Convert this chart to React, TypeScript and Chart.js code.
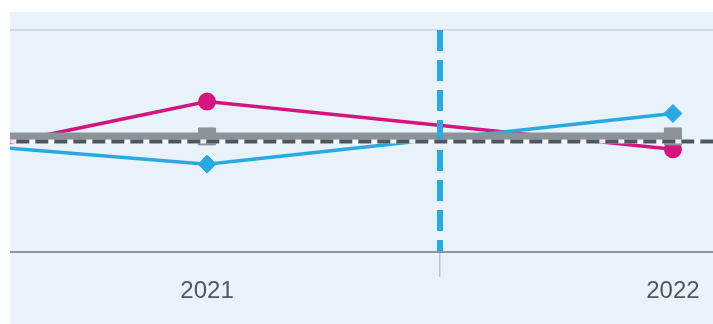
import React, { useEffect, useRef } from "react";
import { Chart, registerables } from "chart.js";

Chart.register(...registerables);

// ---- data ----
const years = [2020, 2021, 2022];
const pinkSeries = [-5.15, 3.54, -0.76];
const blueSeries = [1.28, -2.1, 2.47];
const graySeries = [0.4, 0.4, 0.4];
const referenceValue = -0.05;
const markerYear = 2021.5;
const xTickValues = [2021, 2021.5, 2022];
const xTickLabels: Record<string, string> = { "2021": "2021", "2022": "2022" };
const xRange = [2020.577, 2022.086];
const yRange = [-10, 10];

const PINK = "#d4157f";
const BLUE = "#29a9e1";
const GRAY = "#8b9399";
const DARK = "#4e5660";
const BG = "#e8f2fb";

function pts(vals: number[]) {
  return years.map((x, i) => ({ x, y: vals[i] }));
}

export default function App() {
  const ref = useRef<HTMLCanvasElement | null>(null);
  useEffect(() => {
    if (!ref.current) return;
    const chart = new Chart(ref.current, {
      type: "line",
      data: {
        datasets: [
          {
            label: "reference",
            data: [
              { x: years[0] - 1, y: referenceValue },
              { x: years[years.length - 1] + 1, y: referenceValue },
            ],
            borderColor: DARK,
            borderWidth: 4,
            borderDash: [13, 6],
            pointRadius: 0,
            order: 0,
          },
          {
            label: "reference-under",
            data: [
              { x: years[0] - 1, y: referenceValue },
              { x: years[years.length - 1] + 1, y: referenceValue },
            ],
            borderColor: "rgba(255,255,255,0.85)",
            borderWidth: 4,
            pointRadius: 0,
            order: 1,
          },
          {
            label: "marker",
            data: [
              { x: markerYear, y: yRange[1] },
              { x: markerYear, y: yRange[0] },
            ],
            borderColor: BLUE,
            borderWidth: 6,
            borderDash: [21, 9],
            pointRadius: 0,
            order: 2,
          },
          {
            label: "gray",
            data: pts(graySeries),
            borderColor: GRAY,
            backgroundColor: GRAY,
            borderWidth: 8,
            pointStyle: "rect",
            pointRadius: 12,
            pointBorderWidth: 1,
            pointBackgroundColor: GRAY,
            pointBorderColor: GRAY,
            order: 3,
          },
          {
            label: "blue",
            data: pts(blueSeries),
            borderColor: BLUE,
            backgroundColor: BLUE,
            borderWidth: 3.5,
            pointStyle: "rectRot",
            pointRadius: 9,
            pointBorderWidth: 1,
            pointBackgroundColor: BLUE,
            pointBorderColor: BLUE,
            order: 4,
          },
          {
            label: "pink",
            data: pts(pinkSeries),
            borderColor: PINK,
            backgroundColor: PINK,
            borderWidth: 3.5,
            pointStyle: "circle",
            pointRadius: 8,
            pointBorderWidth: 2,
            pointBackgroundColor: PINK,
            pointBorderColor: PINK,
            order: 5,
          },
        ],
      },
      options: {
        animation: false,
        responsive: true,
        maintainAspectRatio: false,
        layout: { autoPadding: false, padding: { top: 18, bottom: 18.5, left: 0, right: 0 } },
        plugins: {
          legend: { display: false },
          tooltip: { enabled: false },
        },
        scales: {
          x: {
            type: "linear",
            min: xRange[0],
            max: xRange[1],
            afterBuildTicks: (scale: any) => {
              scale.ticks = xTickValues.map((v) => ({ value: v }));
            },
            afterFit: (scale: any) => {
              scale.paddingLeft = 0;
              scale.paddingRight = 0;
            },
            ticks: {
              autoSkip: false,
              maxRotation: 0,
              padding: 0,
              color: "#50585f",
              font: { family: "'Liberation Sans', Arial, sans-serif", size: 24 },
              callback: (v: any) => xTickLabels[String(v)] ?? "",
            },
            grid: {
              drawOnChartArea: false,
              drawTicks: true,
              tickLength: 25,
              lineWidth: 1.5,
              color: (ctx: any) =>
                ctx.tick && ctx.tick.value === markerYear ? "#b4c6dc" : "rgba(0,0,0,0)",
            },
            border: { display: true, color: "#8e959c", width: 2 },
          },
          y: {
            min: yRange[0],
            max: yRange[1],
            ticks: { display: false, stepSize: 20 },
            grid: {
              drawTicks: false,
              lineWidth: 2,
              color: (ctx: any) =>
                ctx.tick && ctx.tick.value === yRange[1] ? "#d4dae0" : "rgba(0,0,0,0)",
            },
            border: { display: false },
          },
        },
      },
    } as any);
    return () => chart.destroy();
  }, []);

  return (
    <div
      style={{
        position: "absolute",
        left: 10,
        top: 12,
        width: 703,
        height: 312,
        background: BG,
      }}
    >
      <canvas ref={ref} />
    </div>
  );
}
